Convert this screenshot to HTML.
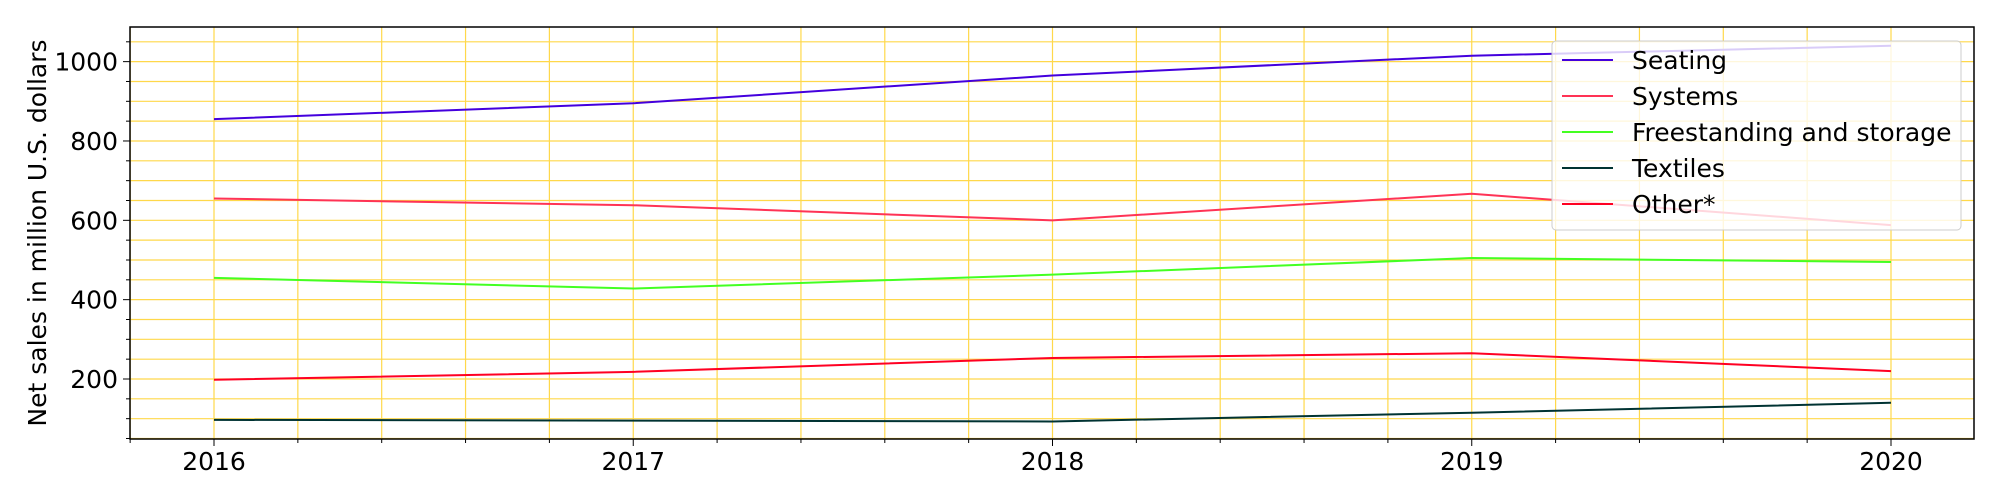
<!DOCTYPE html>
<html><head><meta charset="utf-8"><style>
body{margin:0;background:#fff}
svg{display:block;font-family:"DejaVu Sans","Liberation Sans",sans-serif}
</style></head><body>
<svg id="chart" width="2000" height="500" xmlns="http://www.w3.org/2000/svg">
<g id="grid"></g>
<g id="series"></g>
<g id="axes"></g>
<g id="legend"></g>
</svg>
<script>
const years = [2016, 2017, 2018, 2019, 2020];
const seating = [855, 895, 965, 1015, 1040];
const systems = [655, 638, 600, 667, 588];
const freestanding = [455, 428, 463, 505, 495];
const textiles = [97, 95, 93, 115, 140];
const other = [198, 218, 253, 265, 220];
const seriesNames = ["Seating", "Systems", "Freestanding and storage", "Textiles", "Other*"];
const yTicks = [200, 400, 600, 800, 1000];

const colors = ["#4400dd", "#ff3355", "#44ff22", "#003333", "#ff0022"];
const L = 130, R = 1974, T = 27, B = 439;
const FS = 25;
const x = v => 214 + (v - 2016) * 419.25;
const y = v => 379 - (v - 200) * 0.3967;
const NS = "http://www.w3.org/2000/svg";
function mk(tag, attrs, parent) {
  const e = document.createElementNS(NS, tag);
  for (const k in attrs) e.setAttribute(k, attrs[k]);
  parent.appendChild(e);
  return e;
}
const grid = document.getElementById("grid");
const axes = document.getElementById("axes");
const ser = document.getElementById("series");
const leg = document.getElementById("legend");

for (let v = 50; v <= 1080; v += 50) {
  const g = mk("line", {x1: L, x2: R, y1: y(v), y2: y(v), stroke: "#ffd84a", "stroke-width": 1.2}, grid);
  
  
  const t = mk("line", {x1: L - (v % 200 === 0 ? 7 : 4), x2: L, y1: y(v), y2: y(v), stroke: "#000", "stroke-width": 1}, axes);
  
  
}
for (let i = -1; i <= 22; i++) {
  const v = 2016 + i * 0.2;
  const px = x(v);
  if (px <= L || px >= R) continue;
  const g = mk("line", {x1: px, x2: px, y1: T, y2: B, stroke: "#ffd84a", "stroke-width": 1.2}, grid);
  
  
  const t = mk("line", {x1: px, x2: px, y1: B, y2: B + (i % 5 === 0 ? 7 : 4), stroke: "#000", "stroke-width": 1}, axes);
  
  
}
const frame = mk("rect", {x: L, y: T, width: R - L, height: B - T, fill: "none", stroke: "#000", "stroke-width": 1.5}, axes);



yTicks.forEach(v => {
  const t = mk("text", {x: L - 12, y: y(v) + 9, "text-anchor": "end", "font-size": FS, fill: "#000"}, axes);
  t.textContent = v;
  
  
});
years.forEach(v => {
  const t = mk("text", {x: x(v), y: 470, "text-anchor": "middle", "font-size": FS, fill: "#000"}, axes);
  t.textContent = v;
  
  
});
const yl = mk("text", {x: 0, y: 0, transform: "translate(46," + ((T + B) / 2) + ") rotate(-90)", "text-anchor": "middle", "font-size": FS, fill: "#000"}, axes);
yl.textContent = "Net sales in million U.S. dollars";



const data = [seating, systems, freestanding, textiles, other];
data.forEach((arr, i) => {
  const p = mk("polyline", {points: arr.map((v, j) => x(years[j]) + "," + y(v)).join(" "), fill: "none", stroke: colors[i], "stroke-width": 2}, ser);
  
  
});

const box = mk("rect", {x: 1552, y: 41, width: 409, height: 189, rx: 4, fill: "rgba(255,255,255,0.8)", stroke: "#ccc", "stroke-width": 1}, leg);


seriesNames.forEach((n, i) => {
  const ly = 60 + i * 36;
  const ln = mk("line", {x1: 1562, x2: 1613, y1: ly, y2: ly, stroke: colors[i], "stroke-width": 2}, leg);
  
  
  const t = mk("text", {x: 1632, y: ly + 9, "font-size": FS, fill: "#000"}, leg);
  t.textContent = n;
  
  
});
</script>
</body></html>
